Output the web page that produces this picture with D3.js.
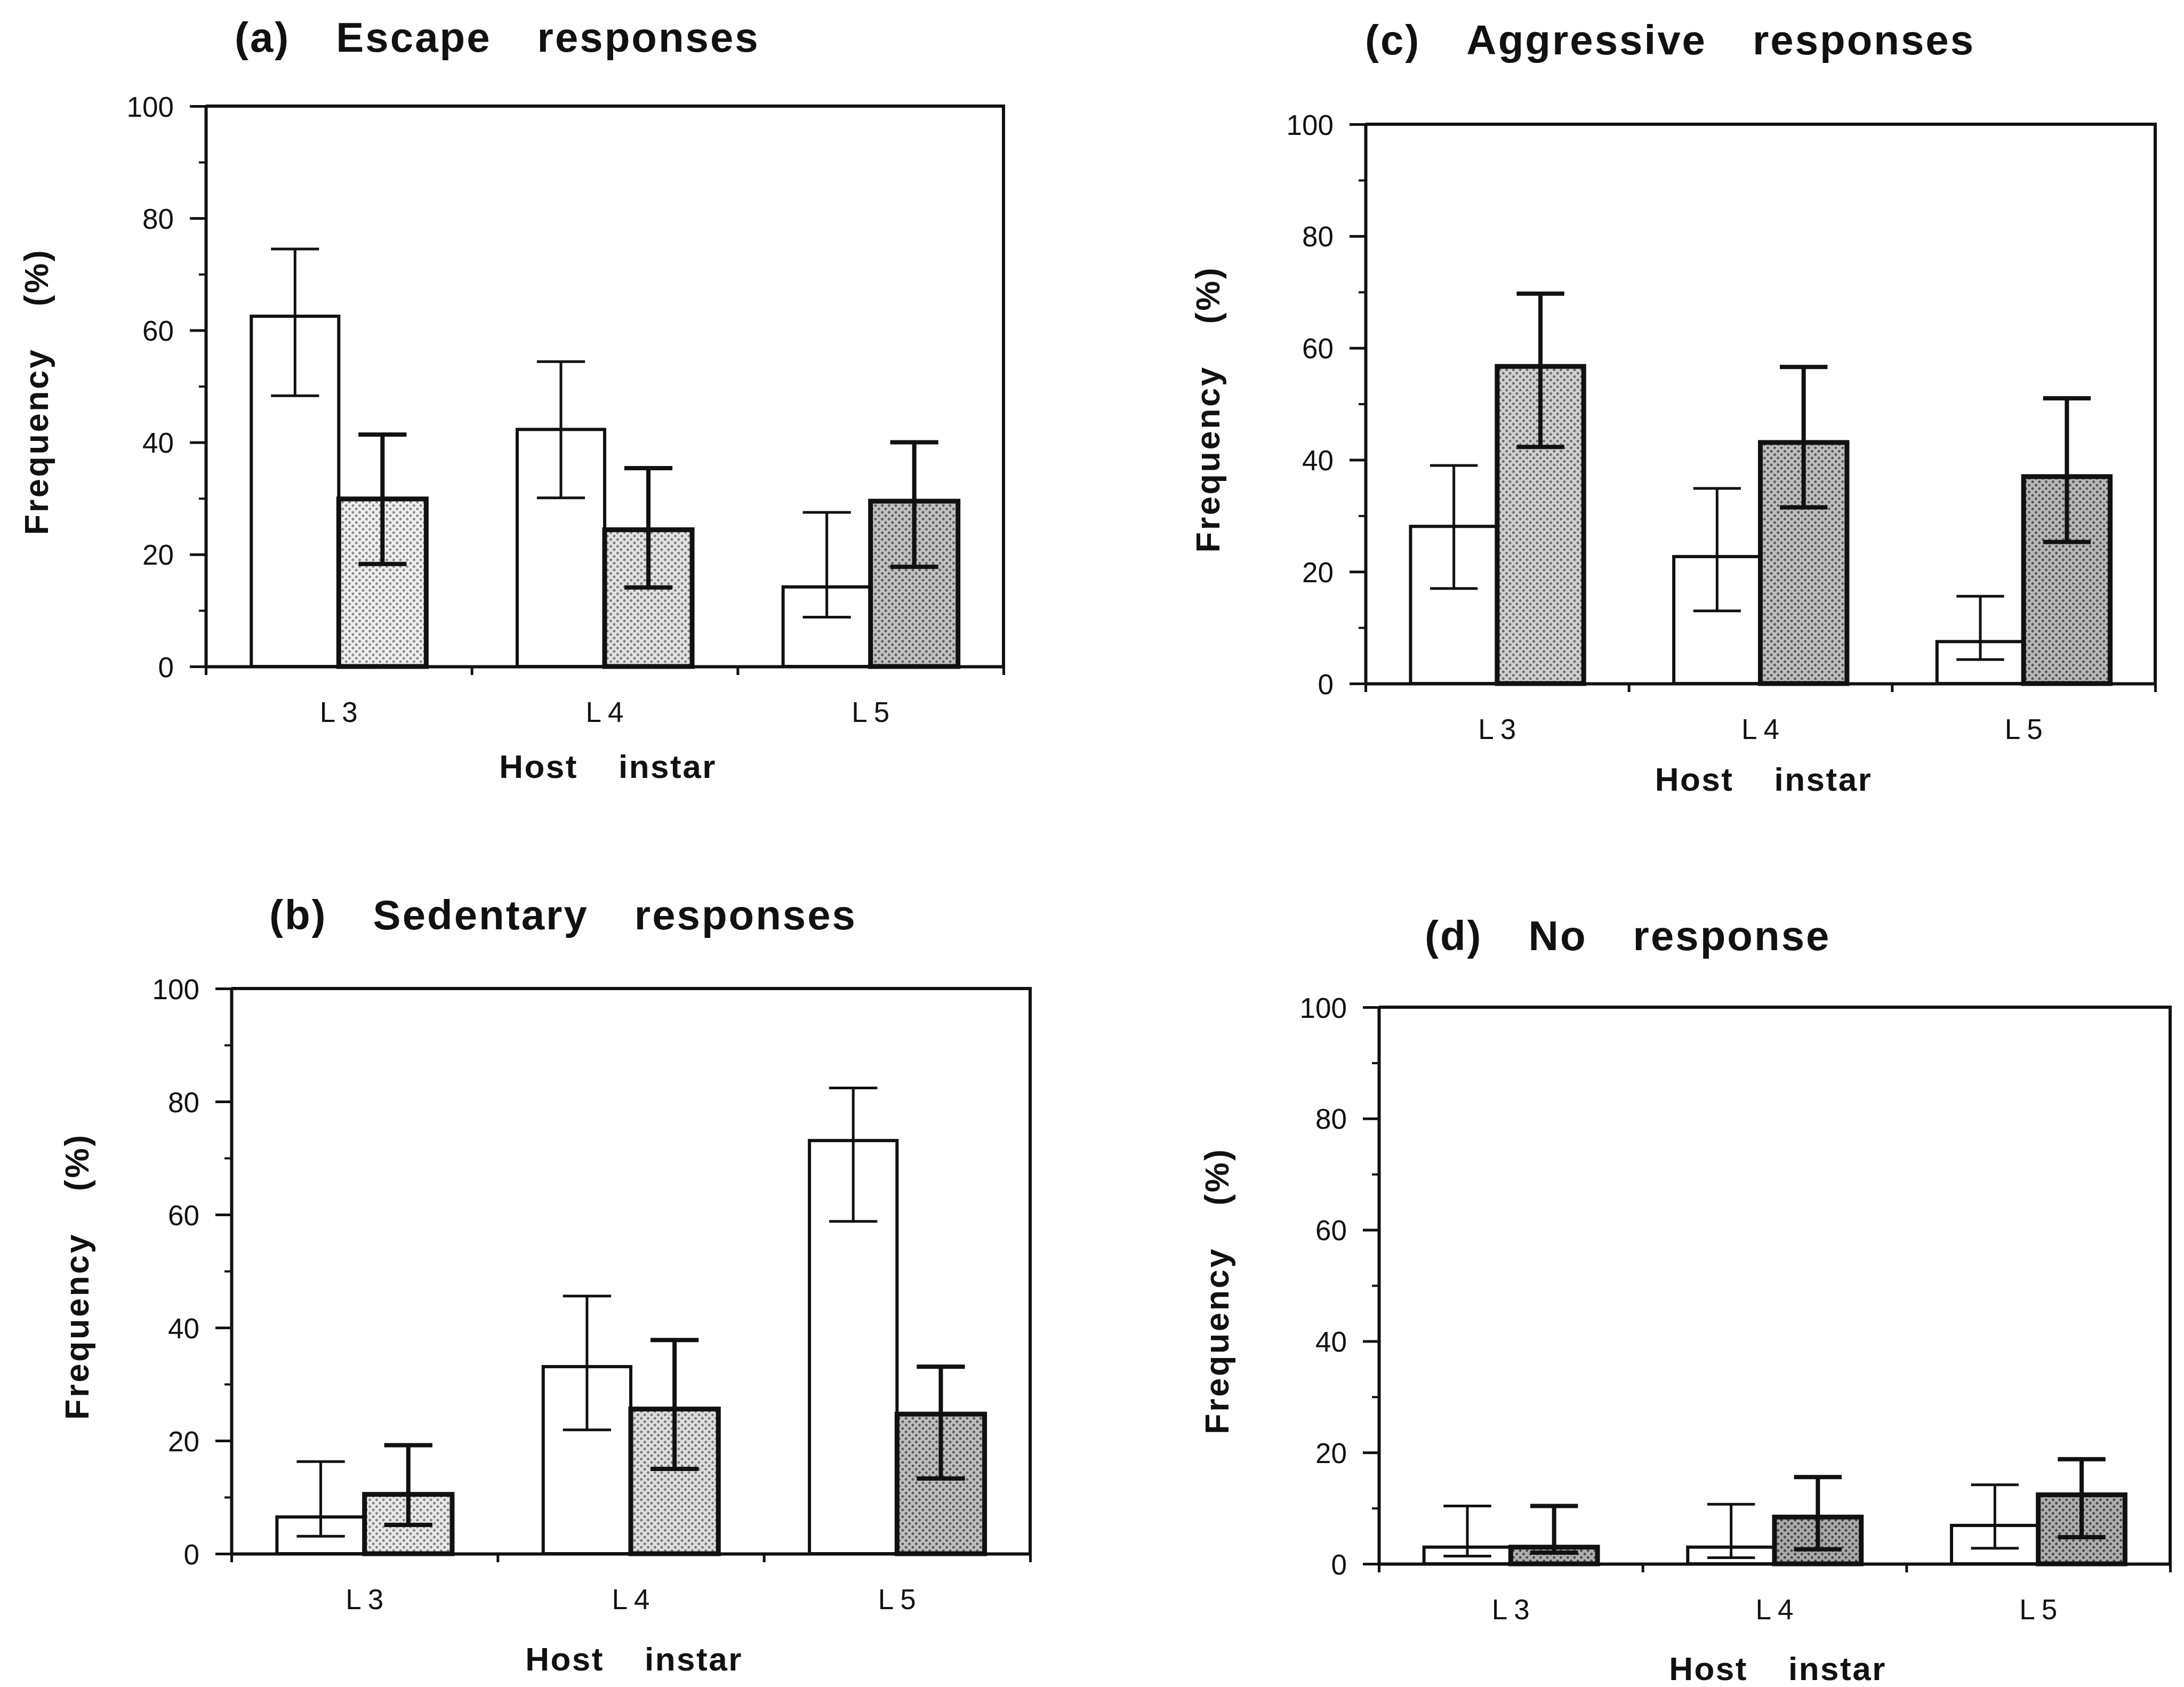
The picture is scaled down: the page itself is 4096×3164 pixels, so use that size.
<!DOCTYPE html>
<html><head><meta charset="utf-8">
<script src="https://cdn.jsdelivr.net/npm/d3@7"></script>
<style>html,body{margin:0;padding:0;background:#fff;} svg{display:block;}</style>
</head><body>
<script>
// ---------------- data ----------------
const categories = ["L3", "L4", "L5"];
const yTickValues = [0, 20, 40, 60, 80, 100];
const yMinorTickValues = [10, 30, 50, 70, 90];
const yLabelWords = ["Frequency", "(%)"];
const xLabelWords = ["Host", "instar"];

const titleA = ["(a)", "Escape", "responses"];
const titleB = ["(b)", "Sedentary", "responses"];
const titleC = ["(c)", "Aggressive", "responses"];
const titleD = ["(d)", "No", "response"];

// (a) Escape responses
const escapeWhite     = [62.5, 42.3, 14.2];
const escapeWhiteHigh = [74.5, 54.4, 27.5];
const escapeWhiteLow  = [48.3, 30.1, 8.8];
const escapeGray      = [29.9, 24.4, 29.5];
const escapeGrayHigh  = [41.4, 35.4, 40.0];
const escapeGrayLow   = [18.3, 14.1, 17.8];

// (b) Sedentary responses
const sedentaryWhite     = [6.5, 33.1, 73.1];
const sedentaryWhiteHigh = [16.3, 45.6, 82.4];
const sedentaryWhiteLow  = [3.1, 21.9, 58.8];
const sedentaryGray      = [10.5, 25.6, 24.7];
const sedentaryGrayHigh  = [19.2, 37.8, 33.1];
const sedentaryGrayLow   = [5.1, 15.0, 13.3];

// (c) Aggressive responses
const aggressiveWhite     = [28.1, 22.7, 7.5];
const aggressiveWhiteHigh = [39.0, 34.9, 15.6];
const aggressiveWhiteLow  = [17.0, 13.0, 4.3];
const aggressiveGray      = [56.7, 43.1, 37.0];
const aggressiveGrayHigh  = [69.7, 56.6, 51.0];
const aggressiveGrayLow   = [42.3, 31.5, 25.3];

// (d) No response
const noneWhite     = [3.0, 3.0, 6.9];
const noneWhiteHigh = [10.4, 10.7, 14.2];
const noneWhiteLow  = [1.4, 1.1, 2.8];
const noneGray      = [3.0, 8.4, 12.4];
const noneGrayHigh  = [10.4, 15.6, 18.8];
const noneGrayLow   = [2.0, 2.6, 4.8];

// ---------------- layout & style ----------------
const W = 4096, H = 3164;
const INK = "#111";
const FONT = "'Liberation Sans', Arial, Helvetica, sans-serif";

const panels = [
  { title: titleA, white: [escapeWhite, escapeWhiteLow, escapeWhiteHigh], gray: [escapeGray, escapeGrayLow, escapeGrayHigh],
    shades: ["#d6d6d6", "#cacaca", "#aaaaaa"],
    x0: 386, x1: 1882, yTop: 199, yBottom: 1250, titleX: 440, titleY: 97, yLabelX: 90, xLabelDY: 209 },
  { title: titleC, white: [aggressiveWhite, aggressiveWhiteLow, aggressiveWhiteHigh], gray: [aggressiveGray, aggressiveGrayLow, aggressiveGrayHigh],
    shades: ["#b8b8b8", "#a6a6a6", "#a0a0a0"],
    x0: 2561, x1: 4042, yTop: 233, yBottom: 1282, titleX: 2560, titleY: 102, yLabelX: 2287, xLabelDY: 201 },
  { title: titleB, white: [sedentaryWhite, sedentaryWhiteLow, sedentaryWhiteHigh], gray: [sedentaryGray, sedentaryGrayLow, sedentaryGrayHigh],
    shades: ["#d0d0d0", "#c6c6c6", "#a6a6a6"],
    x0: 434, x1: 1932, yTop: 1854, yBottom: 2914, titleX: 505, titleY: 1743, yLabelX: 166, xLabelDY: 219 },
  { title: titleD, white: [noneWhite, noneWhiteLow, noneWhiteHigh], gray: [noneGray, noneGrayLow, noneGrayHigh],
    shades: ["#989898", "#929292", "#969696"],
    x0: 2586, x1: 4070, yTop: 1889, yBottom: 2933, titleX: 2672, titleY: 1782, yLabelX: 2304, xLabelDY: 218 }
];

const svg = d3.select("body").append("svg").attr("width", W).attr("height", H)
  .style("background", "#fff");
const defs = svg.append("defs");

let patId = 0;
function stipple(shade) {
  const id = "stip" + (patId++);
  const c = d3.color(shade);
  const base = d3.rgb(Math.min(255, c.r + 24), Math.min(255, c.g + 24), Math.min(255, c.b + 24));
  const dot = d3.rgb(Math.max(0, c.r - 85), Math.max(0, c.g - 85), Math.max(0, c.b - 85));
  const p = defs.append("pattern").attr("id", id).attr("patternUnits", "userSpaceOnUse")
    .attr("width", 9).attr("height", 9).attr("patternTransform", "rotate(45)");
  p.append("rect").attr("width", 9).attr("height", 9).attr("fill", base.formatHex());
  p.append("circle").attr("cx", 4.5).attr("cy", 4.5).attr("r", 2.4).attr("fill", dot.formatHex());
  return "url(#" + id + ")";
}

function drawPanel(p) {
  const g = svg.append("g");
  const y = d3.scaleLinear().domain([0, 100]).range([p.yBottom, p.yTop]);
  const x = d3.scaleBand().domain(categories).range([p.x0, p.x1]).padding(0);
  const inner = d3.scaleBand().domain(["white", "gray"]).range([0, x.bandwidth()])
    .paddingInner(0).paddingOuter(0.52);
  const bw = inner.bandwidth();
  const capW = bw * 0.55;

  const series = [
    { key: "white", vals: p.white, fill: () => "#fff", stroke: 6, err: 5 },
    { key: "gray", vals: p.gray, fill: (i) => stipple(p.shades[i]), stroke: 9, err: 8 }
  ];

  series.forEach(s => {
    const rows = categories.map((c, i) => ({ c, i, v: s.vals[0][i], lo: s.vals[1][i], hi: s.vals[2][i] }));
    g.append("g").selectAll("rect").data(rows).join("rect")
      .attr("x", d => x(d.c) + inner(s.key))
      .attr("width", bw)
      .attr("y", d => y(d.v))
      .attr("height", d => y(0) - y(d.v))
      .attr("fill", d => s.fill(d.i))
      .attr("stroke", INK).attr("stroke-width", s.stroke);
    const eg = g.append("g").attr("stroke", INK).attr("stroke-width", s.err).attr("fill", "none");
    const cx = d => x(d.c) + inner(s.key) + bw / 2;
    eg.selectAll("line.stem").data(rows).join("line").attr("class", "stem")
      .attr("x1", cx).attr("x2", cx).attr("y1", d => y(d.lo)).attr("y2", d => y(d.hi));
    eg.selectAll("line.capHi").data(rows).join("line").attr("class", "capHi")
      .attr("x1", d => cx(d) - capW / 2).attr("x2", d => cx(d) + capW / 2)
      .attr("y1", d => y(d.hi)).attr("y2", d => y(d.hi));
    eg.selectAll("line.capLo").data(rows).join("line").attr("class", "capLo")
      .attr("x1", d => cx(d) - capW / 2).attr("x2", d => cx(d) + capW / 2)
      .attr("y1", d => y(d.lo)).attr("y2", d => y(d.lo));
  });

  // frame top & right
  g.append("path").attr("d", `M${p.x0},${p.yTop}H${p.x1}V${p.yBottom}`)
    .attr("fill", "none").attr("stroke", INK).attr("stroke-width", 6);

  // y axis (major)
  const ya = g.append("g").attr("transform", `translate(${p.x0},0)`)
    .call(d3.axisLeft(y).tickValues(yTickValues).tickSize(30).tickPadding(30).tickSizeOuter(0));
  ya.select(".domain").attr("stroke", INK).attr("stroke-width", 6);
  ya.selectAll(".tick line").attr("stroke", INK).attr("stroke-width", 5);
  ya.selectAll(".tick text").attr("fill", INK).style("font-family", FONT).style("font-size", "53px").attr("dy", "0.36em");
  // y axis (minor)
  const ym = g.append("g").attr("transform", `translate(${p.x0},0)`)
    .call(d3.axisLeft(y).tickValues(yMinorTickValues).tickSize(13).tickFormat(""));
  ym.select(".domain").remove();
  ym.selectAll(".tick line").attr("stroke", INK).attr("stroke-width", 4);

  // x axis boundary ticks
  const xb = d3.scaleLinear().domain([0, categories.length]).range([p.x0, p.x1]);
  const xa = g.append("g").attr("transform", `translate(0,${p.yBottom})`)
    .call(d3.axisBottom(xb).tickValues(d3.range(categories.length + 1)).tickSize(16).tickFormat("").tickSizeOuter(0));
  xa.select(".domain").attr("stroke", INK).attr("stroke-width", 6);
  xa.selectAll(".tick line").attr("stroke", INK).attr("stroke-width", 5);

  // category labels
  const xc = g.append("g").attr("transform", `translate(0,${p.yBottom})`)
    .call(d3.axisBottom(x).tickSize(0).tickPadding(66));
  xc.select(".domain").remove();
  xc.selectAll(".tick text").attr("fill", INK).style("font-family", FONT).style("font-size", "53px")
    .style("letter-spacing", "12px").attr("dx", 6);

  // title
  const t = g.append("text").attr("x", p.titleX).attr("y", p.titleY)
    .attr("fill", INK).style("font-family", FONT).style("font-size", "78px").style("font-weight", "bold")
    .style("letter-spacing", "3px");
  p.title.forEach((w, i) => t.append("tspan").attr("dx", i ? 86 : 0).text(w));

  // y label
  const cy = (p.yTop + p.yBottom) / 2 + 10;
  const yl = g.append("text").attr("transform", `translate(${p.yLabelX},${cy}) rotate(-90)`)
    .attr("text-anchor", "middle").attr("fill", INK)
    .style("font-family", FONT).style("font-size", "63px").style("font-weight", "bold").style("letter-spacing", "3.6px");
  yLabelWords.forEach((w, i) => yl.append("tspan").attr("dx", i ? 78 : 0).text(w));

  // x label
  const xl = g.append("text").attr("x", (p.x0 + p.x1) / 2 + 6).attr("y", p.yBottom + p.xLabelDY)
    .attr("text-anchor", "middle").attr("fill", INK)
    .style("font-family", FONT).style("font-size", "62px").style("font-weight", "bold").style("letter-spacing", "2.5px");
  xLabelWords.forEach((w, i) => xl.append("tspan").attr("dx", i ? 76 : 0).text(w));
}

panels.forEach(drawPanel);
</script>
</body></html>
